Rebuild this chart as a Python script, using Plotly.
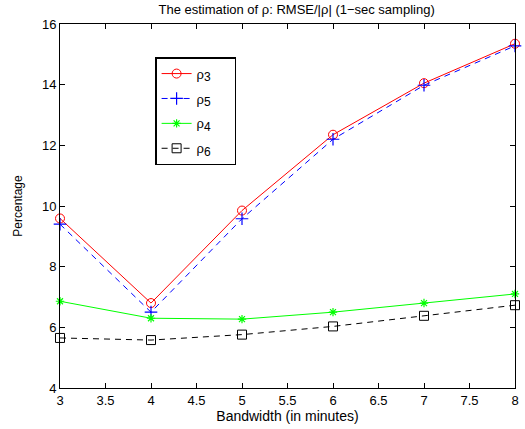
import plotly.graph_objects as go

bandwidth = [3, 4, 5, 6, 7, 8]
rho3 = [9.59, 6.80, 9.85, 12.35, 14.05, 15.35]
rho5 = [9.40, 6.50, 9.58, 12.20, 13.98, 15.28]
rho4 = [6.86, 6.30, 6.27, 6.50, 6.80, 7.10]
rho6 = [5.65, 5.58, 5.76, 6.03, 6.38, 6.73]

x_ticks = [3, 3.5, 4, 4.5, 5, 5.5, 6, 6.5, 7, 7.5, 8]
y_ticks = [4, 6, 8, 10, 12, 14, 16]

FONT = "Liberation Sans, Arial, sans-serif"
PAD = "\u00a0\u00a0\u00a0\u00a0\u00a0"


def lab(n):
    return "ρ<sub><span style=\"font-size:12px\">%d</span></sub>" % n + PAD


fig = go.Figure()
fig.add_trace(go.Scatter(x=bandwidth, y=rho3, name=lab(3), legendgroup="a", mode="lines+markers",
                         cliponaxis=False,
                         line=dict(color="#ff0000", width=1),
                         marker=dict(symbol="circle-open", size=9, color="#ff0000", line=dict(width=1))))
fig.add_trace(go.Scatter(x=bandwidth, y=rho5, name=lab(5), legendgroup="b", mode="lines+markers",
                         cliponaxis=False,
                         line=dict(color="#0000ff", width=1, dash="6px,5px"),
                         marker=dict(symbol="cross-thin-open", size=9, color="#0000ff", line=dict(width=1.2, color="#0000ff"))))
fig.add_trace(go.Scatter(x=bandwidth, y=rho4, name=lab(4), legendgroup="c", mode="lines+markers",
                         cliponaxis=False,
                         line=dict(color="#00ff00", width=1),
                         marker=dict(symbol="asterisk-open", size=7, color="#00ff00", line=dict(width=1.2, color="#00ff00"))))
fig.add_trace(go.Scatter(x=bandwidth, y=rho6, name=lab(6), legendgroup="d", mode="lines+markers",
                         cliponaxis=False,
                         line=dict(color="#000000", width=1, dash="6px,5px"),
                         marker=dict(symbol="square-open", size=9, color="#000000", line=dict(width=1))))

axis_common = dict(showgrid=False, zeroline=False, showline=True, linecolor="black", linewidth=1,
                   mirror="ticks", ticks="inside", ticklen=5, tickcolor="black",
                   tickfont=dict(family=FONT, size=13, color="black"))

fig.update_layout(
    width=525, height=429,
    margin=dict(l=60, r=6, t=24, b=41),
    paper_bgcolor="white", plot_bgcolor="white",
    font=dict(family=FONT, size=13, color="black"),
    title=dict(text="The estimation of ρ: RMSE/|ρ| (1−sec sampling)", x=0.565, xanchor="center",
               y=0.988, yanchor="top", font=dict(size=13)),
    xaxis=dict(range=[3, 8], tickvals=x_ticks, ticktext=[f"{v:g}" for v in x_ticks],
               title=dict(text="Bandwidth (in minutes)", standoff=0, font=dict(size=14)), **axis_common),
    yaxis=dict(range=[4, 16], tickvals=y_ticks,
               title=dict(text="Percentage", standoff=16, font=dict(size=12)), **axis_common),
    legend=dict(x=0.209, y=0.909, xanchor="left", yanchor="top", bgcolor="white",
                bordercolor="black", borderwidth=1.5, font=dict(size=13), tracegroupgap=5,
                itemwidth=30),
    showlegend=True,
)

fig.write_html("out.html", config={"displayModeBar": False},
               post_script="document.body.style.margin='0';")
